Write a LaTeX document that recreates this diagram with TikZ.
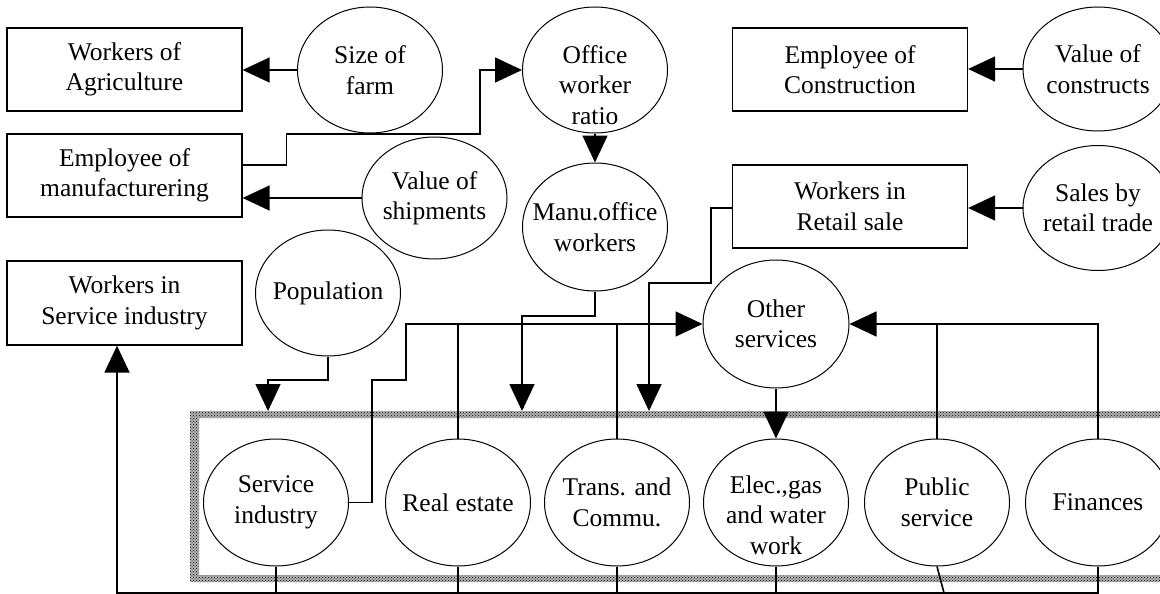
\documentclass[tikz,border=0pt]{standalone}
\usepackage{fontspec}
\setmainfont{Liberation Serif}
\usetikzlibrary{shapes.geometric,arrows.meta,patterns}
\begin{document}
\begin{tikzpicture}[x=1pt,y=-1pt,
  font=\fontsize{25.5}{30.5}\selectfont,
  box/.style={draw,line width=1.3pt,minimum width=235pt,minimum height=83pt,inner sep=0pt,align=center},
  ell/.style={draw,ellipse,line width=1pt,minimum width=145pt,minimum height=126pt,inner sep=0pt},
  txt/.style={align=center,inner sep=0pt},
  con/.style={line width=1.6pt},
  arr/.style={con,-{Triangle[length=27pt,width=25pt]}}]
\useasboundingbox (0,0) rectangle (1160,594);
\fill[white] (0,0) rectangle (1160,594);
% shaded frame
\fill[black!30,even odd rule]
  (190,411) rectangle (1180,582) (199,418) rectangle (1170,575);
\fill[pattern=crosshatch dots,pattern color=black,even odd rule]
  (190,411) rectangle (1180,582) (199,418) rectangle (1170,575);
% boxes
\node[box] (agri) at (124.5,69.5) {Workers of\\Agriculture};
\node[box] (manuf) at (124.5,175.5) {Employee of\\manufacturering};
\node[box,minimum height=84pt] (wsvc) at (124.5,303) {Workers in\\Service industry};
\node[box] (constr) at (850,69.5) {Employee of\\Construction};
\node[box] (retail) at (850,206.5) {Workers in\\Retail sale};
% ellipses
\node[ell] (farm) at (370,70) {};
\node[txt] (farmt) at (farm) {Size of\\farm};
\node[ell] (office) at (595,70) {};
\node[txt] (officet) at (595,85) {Office\\worker\\ratio};
\node[ell,minimum height=122pt] (ship) at (434.5,198) {};
\node[txt] (shipt) at (ship) {Value of\\shipments};
\node[ell,minimum height=128pt] (manu) at (595,227) {};
\node[txt] (manut) at (manu) {Manu.office\\workers};
\node[ell] (pop) at (328,293) {};
\node[txt] (popt) at (pop) {Population};
\node[ell,minimum width=150pt,minimum height=124pt] (cons) at (1098,69) {};
\node[txt] (const) at (cons) {Value of\\constructs};
\node[ell,minimum width=150pt,minimum height=125pt] (sales) at (1098,208) {};
\node[txt] (salest) at (sales) {Sales by\\retail trade};
\node[ell,minimum width=146pt,minimum height=128pt] (other) at (776,324) {};
\node[txt] (othert) at (other) {Other\\services};
\node[ell,minimum height=127pt] (svc) at (276,502.5) {};
\node[txt] (svct) at (svc) {Service\\industry};
\node[ell,minimum height=127pt] (real) at (458,502.5) {};
\node[txt] (realt) at (real) {Real estate};
\node[ell,minimum height=127pt] (trans) at (617,502.5) {};
\node[txt] (transt) at (trans) {Trans. and\\Commu.};
\node[ell,minimum height=127pt] (elec) at (776,502.5) {};
\node[txt] (elect) at (776,515) {Elec.,gas\\and water\\work};
\node[ell,minimum height=127pt] (pub) at (937,502.5) {};
\node[txt] (pubt) at (pub) {Public\\service};
\node[ell,minimum height=127pt] (fin) at (1098,502.5) {};
\node[txt] (fint) at (fin) {Finances};
% free ends
\coordinate (popend) at (268,411);
\coordinate (manuend) at (522,411);
\coordinate (retailend) at (649,411);
\coordinate (bl) at (117,593);
\coordinate (pubbot) at (944,593);
% connectors
\draw[arr] (farm.west) -- (agri.east |- farm.west);
\draw[arr] ([yshift=10.5pt]manuf.east) -- ++(44,0) |- (480,134) |- (office.west);
\draw[arr] (ship.west) -- (manuf.east |- ship.west);
\draw[arr] (office.south) -- (manu.north);
\draw[arr] (cons.west) -- (constr.east |- cons.west);
\draw[arr] (sales.west) -- (retail.east |- sales.west);
\draw[arr] (pop.south) |- (268,380) -- (popend);
\draw[arr] (svc.east) -- ++(23,0) |- (406,380) |- (other.west);
\draw[con] (real.north) -- (real.north |- other.west);
\draw[con] (trans.north) -- (trans.north |- other.west);
\draw[arr] (manu.south) |- (522,316) -- (manuend);
\draw[arr] ([yshift=-1.5pt]retail.west) -- ++(-21,0) |- (649,283) -- (retailend);
\draw[arr] (other.south) -- (elec.north);
\draw[arr] (fin.north) |- (other.east);
\draw[con] (pub.north) -- (pub.north |- other.east);
% bottom collector
\draw[arr] (fin.south) |- (bl) -- (bl |- wsvc.south);
\draw[con] (svc.south) -- (svc.south |- bl);
\draw[con] (real.south) -- (real.south |- bl);
\draw[con] (trans.south) -- (trans.south |- bl);
\draw[con] (elec.south) -- (elec.south |- bl);
\draw[con] (pub.south) -- (pubbot);
\end{tikzpicture}
\end{document}
